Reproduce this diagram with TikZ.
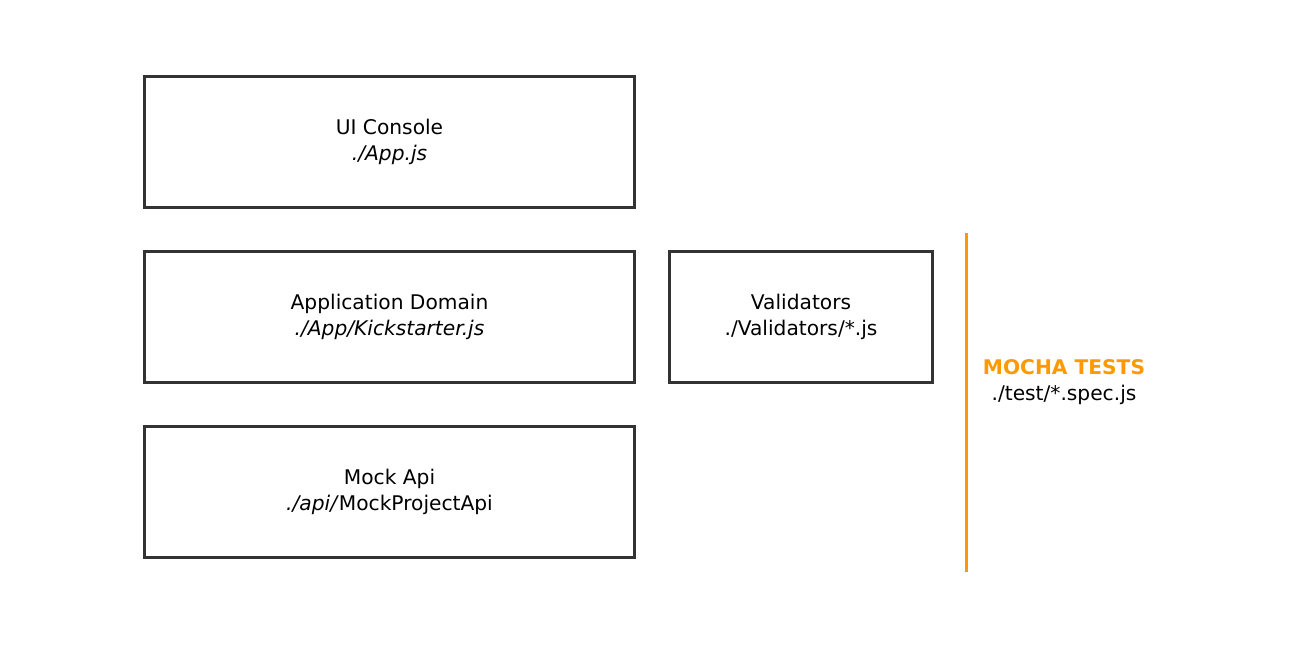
\documentclass[tikz,border=0pt]{standalone}
\usepackage{fontspec}
\setmainfont{DejaVu Sans}
\begin{document}
\begin{tikzpicture}[x=1pt,y=-1pt,
  box/.style={draw=boxgray,line width=3pt,minimum width=490pt,minimum height=131pt,inner sep=0pt,anchor=north west,align=center,font=\fontsize{20.2}{26}\selectfont},
  lbl/.style={align=center,font=\fontsize{20.2}{26}\selectfont}]
\definecolor{boxgray}{HTML}{333333}
\definecolor{mocha}{HTML}{FF9900}
\useasboundingbox (0,0) rectangle (1296,665);
\node[box] (ui) at (143,75) {UI Console\\\textit{./App.js}};
\node[box] (dom) at (143,250) {Application Domain\\\textit{./App/Kickstarter.js}};
\node[box] (api) at (143,425) {Mock Api\\\textit{./api/}MockProjectApi};
\node[box,minimum width=263pt] (val) at (668,250) {Validators\\./Validators/*.js};
\coordinate (ltop) at (966,233);
\coordinate (lbot) at (966,572);
\draw[mocha,line width=3pt] (ltop) -- (lbot);
\node[lbl] (mocha) at (1064,382) {\textcolor{mocha}{\textbf{MOCHA TESTS}}\\./test/*.spec.js};
\end{tikzpicture}
\end{document}
